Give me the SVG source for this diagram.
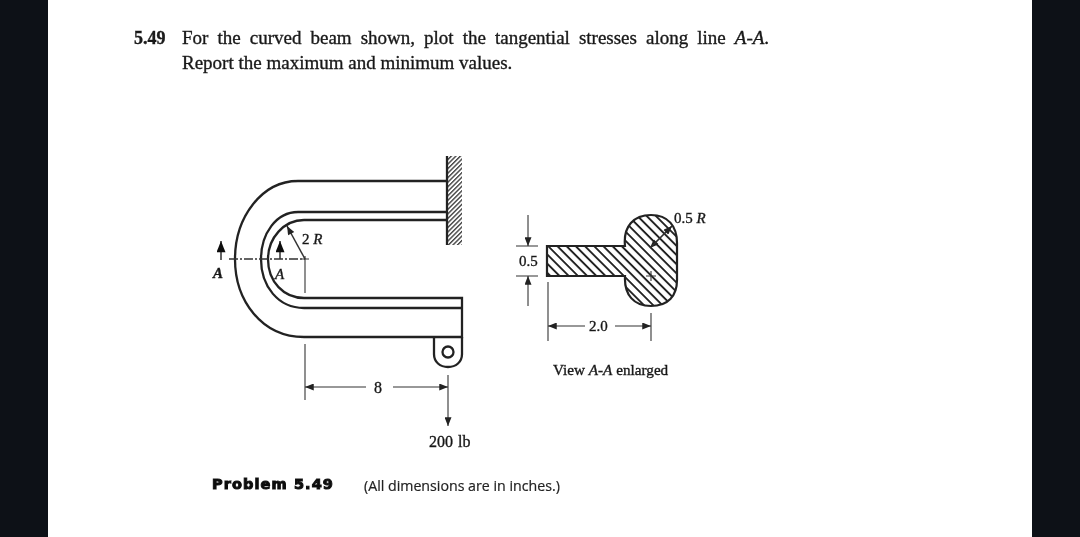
<svg xmlns="http://www.w3.org/2000/svg" width="1080" height="537" viewBox="0 0 1080 537">
<style>
.l{fill:none;stroke:#222;stroke-width:2.3}
.t{fill:none;stroke:#333;stroke-width:1.1}
.txt{font-family:"Liberation Serif",serif;fill:#1a1a1a;stroke:#1a1a1a;stroke-width:.35}
.b{font-size:19px}
.s{font-size:15px}
.i{font-style:italic}
.soft{filter:url(#soft)}
</style>
<defs>
<filter id="soft" x="0" y="0" width="1080" height="537" filterUnits="userSpaceOnUse"><feGaussianBlur stdDeviation="0.45"/></filter>
<marker id="a" viewBox="0 0 10 8" refX="10" refY="4" markerWidth="10" markerHeight="7" markerUnits="userSpaceOnUse" orient="auto-start-reverse"><path d="M0 0L10 4L0 8Z" fill="#222"/></marker>
<marker id="A" viewBox="0 0 10 8" refX="10" refY="4" markerWidth="12" markerHeight="9" markerUnits="userSpaceOnUse" orient="auto"><path d="M0 0L10 4L0 8Z" fill="#111"/></marker>
<pattern id="h" width="6.5" height="6.5" patternUnits="userSpaceOnUse" patternTransform="rotate(45)"><rect width="6.5" height="6.5" fill="#fff"/><rect width="6.5" height="1.9" fill="#222"/></pattern>
<pattern id="w" width="3.2" height="3.2" patternUnits="userSpaceOnUse" patternTransform="rotate(-45)"><rect width="3.2" height="3.2" fill="#fff"/><rect width="3.2" height="1.4" fill="#444"/></pattern>
</defs>
<rect width="1080" height="537" fill="#fff"/>
<rect id="bar-left" x="0" y="0" width="48" height="537" fill="#0d1117"/>
<rect id="bar-right" x="1032" y="0" width="48" height="537" fill="#0d1117"/>
<g class="soft">
<g id="title">
<text class="txt b" x="134" y="44" font-weight="bold" style="font-size:18px">5.49</text>
<text class="txt b" x="182" y="44" word-spacing="4.3">For the curved beam shown, plot the tangential stresses along line <tspan class="i">A-A</tspan>.</text>
<text class="txt b" x="182" y="69">Report the maximum and minimum values.</text>
</g>
<g id="beam">
<rect x="447" y="156" width="15" height="89" fill="url(#w)"/>
<path class="l" d="M447 156V245"/>
<path class="l" d="M447 181H298C262 181 235 217 235 259C235 301 262 337 304 337H462V298H304C284 298 268 282 268 259C268 238 284 220 304 220H447"/>
<path class="l" d="M447 212H298C276 212 261 234 261 259C261 286 278 308 304 308H462"/>
<path class="l" d="M434 338V354C434 362 440 367 448 367C456 367 462 362 462 354V337"/>
<circle class="l" cx="448" cy="352" r="5.5"/>
</g>
<g id="section">
<path d="M547 246H625C623 226 634 215 651 215C668 215 677 226 677 243V280C677 296 668 306 651 306C634 306 624 295 625 276H547Z" fill="url(#h)" stroke="#222" stroke-width="2.2"/>
</g>
<g id="connectors">
<path class="t" style="stroke-width:1.6" stroke-dasharray="9 2 2 2" d="M229 259H305"/>
<path class="t" d="M305 262V293M305 344V400M448 375V405M516 246H538M516 276H538M548 282V341M651 313V341M302 259H309M305 256V262M646 276H656M651 271V281"/>
<path class="t" style="stroke-width:1.5" marker-end="url(#a)" d="M305 259L287 226"/>
<path class="t" style="stroke-width:1.5" marker-end="url(#A)" d="M221 260V241"/>
<path class="t" style="stroke-width:1.5" marker-end="url(#A)" d="M280 259V241"/>
<path class="t" marker-end="url(#a)" d="M366 387H305"/>
<path class="t" marker-end="url(#a)" d="M393 387H448"/>
<path class="t" marker-end="url(#a)" d="M448 405V426"/>
<path class="t" marker-end="url(#a)" d="M528 215V246"/>
<path class="t" marker-end="url(#a)" d="M528 306V276"/>
<path class="t" marker-end="url(#a)" d="M585 326H548"/>
<path class="t" marker-end="url(#a)" d="M615 326H651"/>
<path class="t" marker-end="url(#a)" d="M672 226L650 248"/>
<path class="t" marker-end="url(#a)" d="M650 248L672 226"/>
</g>
<g id="labels">
<text class="txt s" x="302" y="244">2 <tspan class="i">R</tspan></text>
<text class="txt s i" font-weight="bold" x="213" y="278">A</text>
<text class="txt s i" x="275" y="279">A</text>
<text class="txt" font-size="16" x="374" y="393">8</text>
<text class="txt" font-size="16" x="429" y="447" word-spacing="1">200 lb</text>
<text class="txt s" x="519" y="266">0.5</text>
<text class="txt s" x="589" y="331">2.0</text>
<text class="txt s" x="674" y="223">0.5 <tspan class="i">R</tspan></text>
<text class="txt" x="553" y="375" font-size="15.2">View <tspan class="i">A-A</tspan> enlarged</text>
<text x="212" y="489" font-family="'DejaVu Sans',sans-serif" font-size="14.5" letter-spacing="1.1" font-weight="bold" fill="#111" stroke="#111" stroke-width="1">Problem 5.49</text>
<text x="364" y="491" font-family="'Open Sans',sans-serif" font-size="14.2" fill="#222" stroke="#222" stroke-width=".2">(All dimensions are in inches.)</text>
</g>
</g>
</svg>
